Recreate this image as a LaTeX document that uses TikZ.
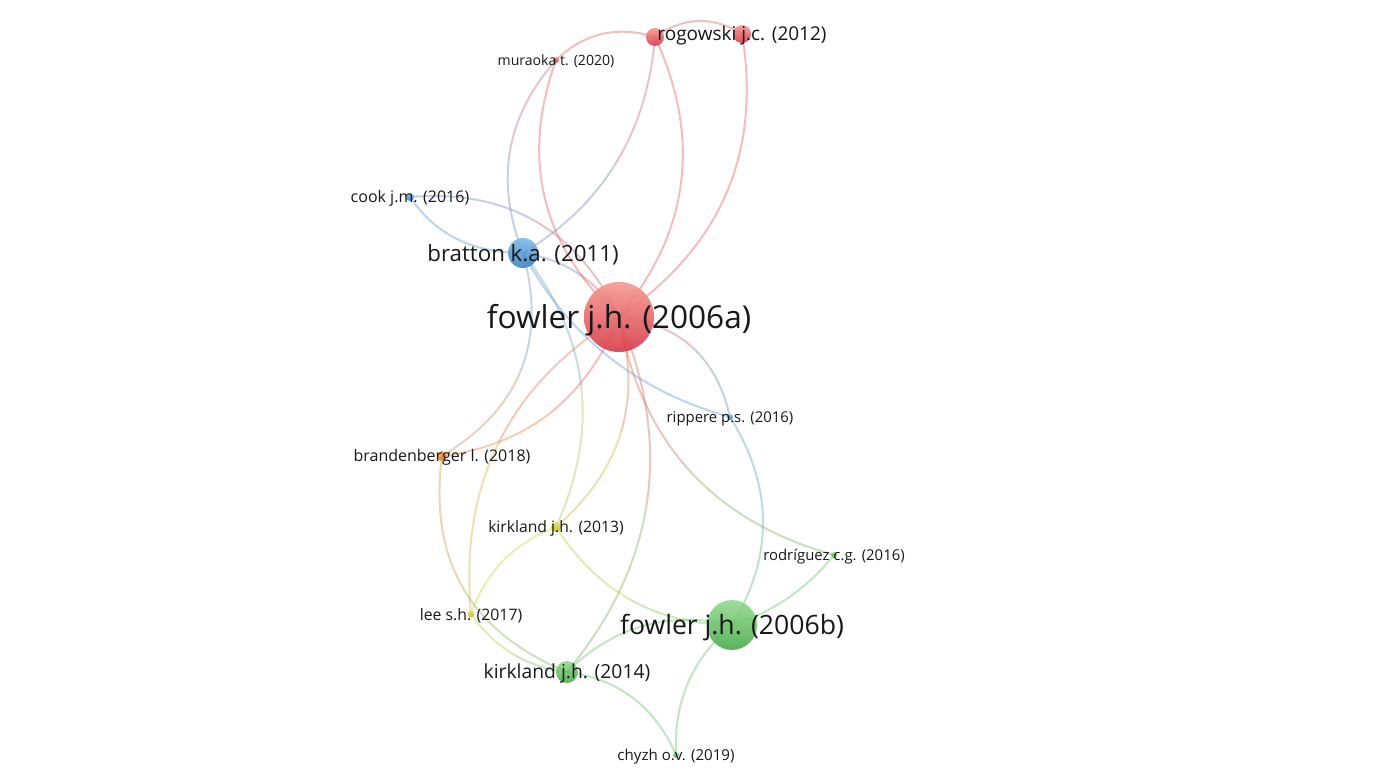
\documentclass[tikz,border=0pt]{standalone}
\usepackage{fontspec}
\setmainfont{Open Sans}
\usetikzlibrary{calc}
\pgfdeclarelayer{back}
\pgfdeclarelayer{bg}
\pgfsetlayers{back,bg,main}
\definecolor{cred}{RGB}{234,90,90}
\definecolor{cblue}{RGB}{85,152,220}
\definecolor{cgreen}{RGB}{100,196,100}
\definecolor{corange}{RGB}{240,142,62}
\definecolor{cyellow}{RGB}{205,212,60}
\definecolor{txt}{RGB}{24,24,24}
\tikzset{
  edgeln/.style={line width=2pt, draw opacity=0.4},
  dot/.style={circle, inner sep=0pt, minimum size=#1, fill opacity=0.88, draw=none},
  redn/.style={top color={rgb,255:red,246;green,150;blue,140}, bottom color={rgb,255:red,214;green,52;blue,68}},
  bluen/.style={top color={rgb,255:red,125;green,185;blue,232}, bottom color={rgb,255:red,55;green,128;blue,195}},
  greenn/.style={top color={rgb,255:red,145;green,218;blue,140}, bottom color={rgb,255:red,68;green,170;blue,70}},
  orangen/.style={top color={rgb,255:red,240;green,160;blue,70}, bottom color={rgb,255:red,222;green,120;blue,30}},
  yellown/.style={top color={rgb,255:red,225;green,225;blue,95}, bottom color={rgb,255:red,190;green,192;blue,40}},
  lbl/.style={inner sep=0pt, text=txt, font=\fontsize{#1}{#1}\selectfont, yshift={-0.09pt*#1}}
}
\newcommand\lnk[6]{%
  \coordinate (em) at (#3,#4);
  \coordinate (eq) at ($2*(em) - 0.5*(#1.center) - 0.5*(#2.center)$);
  \coordinate (el) at ($(#1.center)!0.5!(eq)$);
  \coordinate (er) at ($(#2.center)!0.5!(eq)$);
  \draw[edgeln, draw=#5!75!#6] (#1.center) .. controls ($(#1.center)!0.6666667!(el)$) and ($(em)!0.6666667!(el)$) .. (em);
  \draw[edgeln, draw=#6!75!#5] (em) .. controls ($(em)!0.6666667!(er)$) and ($(#2.center)!0.6666667!(er)$) .. (#2.center);
}
\begin{document}
\begin{tikzpicture}[x=1pt, y=-1pt]
\begin{pgfonlayer}{back}
\fill[white] (0,0) rectangle (1373,775);
\end{pgfonlayer}
\useasboundingbox (0,0) rectangle (1373,775);
% nodes
\node[dot=70pt, redn] (A) at (619,317) {};
\node[dot=50pt, greenn] (B) at (732,625) {};
\node[dot=30pt, bluen] (BR) at (523,253) {};
\node[dot=8pt, bluen] (CK) at (410,197) {};
\node[dot=18pt, redn] (R1) at (655,37) {};
\node[dot=18pt, redn] (R2) at (742,34) {};
\node[dot=6pt, redn] (MU) at (556,60) {};
\node[dot=6pt, bluen] (RI) at (730,417) {};
\node[dot=10pt, orangen] (BB) at (442,456) {};
\node[dot=10pt, yellown] (K13) at (556,527) {};
\node[dot=6pt, greenn] (RO) at (834,555) {};
\node[dot=7pt, yellown] (LE) at (471,614) {};
\node[dot=22pt, greenn] (K14) at (567,672) {};
\node[dot=6pt, greenn] (CH) at (676,755) {};
% labels
\node[lbl=31.6] (lA) at (A) {fowler j.h. (2006a)};
\node[lbl=26.6] (lB) at (B) {fowler j.h. (2006b)};
\node[lbl=22.3] (lBR) at (BR) {bratton k.a. (2011)};
\node[lbl=16] (lCK) at (CK) {cook j.m. (2016)};
\node[lbl=19] (lR2) at (R2) {rogowski j.c. (2012)};
\node[lbl=14.1] (lMU) at (MU) {muraoka t. (2020)};
\node[lbl=14.9] (lRI) at (RI) {rippere p.s. (2016)};
\node[lbl=16] (lBB) at (BB) {brandenberger l. (2018)};
\node[lbl=15.7] (lK13) at (K13) {kirkland j.h. (2013)};
\node[lbl=14.9] (lRO) at (RO) {rodríguez c.g. (2016)};
\node[lbl=15.8] (lLE) at (LE) {lee s.h. (2017)};
\node[lbl=19.3] (lK14) at (K14) {kirkland j.h. (2014)};
\node[lbl=15.1] (lCH) at (CH) {chyzh o.v. (2019)};
% edges
\begin{pgfonlayer}{bg}
\lnk{R1}{R2}{698}{21}{cred}{cred}
\lnk{MU}{R1}{602}{34}{cred}{cred}
\lnk{MU}{BR}{510}{151}{cred}{cblue}
\lnk{MU}{A}{545}{199}{cred}{cred}
\lnk{R1}{A}{681}{183}{cred}{cred}
\lnk{R2}{A}{726}{194}{cred}{cred}
\lnk{R1}{BR}{616}{163}{cred}{cblue}
\lnk{CK}{BR}{457}{239}{cblue}{cblue}
\lnk{CK}{A}{535}{221}{cblue}{cred}
\lnk{BR}{A}{579}{274}{cblue}{cred}
\lnk{BR}{RI}{609}{357}{cblue}{cblue}
\lnk{BR}{BB}{521}{370}{cblue}{corange}
\lnk{BR}{K13}{581}{385}{cblue}{cyellow}
\lnk{A}{RI}{692}{347}{cred}{cblue}
\lnk{RI}{B}{763}{521}{cblue}{cgreen}
\lnk{A}{BB}{550}{413}{cred}{corange}
\lnk{A}{LE}{499}{442}{cred}{cyellow}
\lnk{A}{K13}{621}{432}{cred}{cyellow}
\lnk{A}{K14}{647}{502}{cred}{cgreen}
\lnk{A}{RO}{689}{470}{cred}{cgreen}
\lnk{BB}{K14}{463}{588}{corange}{cgreen}
\lnk{K13}{LE}{503}{561}{cyellow}{cyellow}
\lnk{K13}{B}{631}{600}{cyellow}{cgreen}
\lnk{LE}{K14}{513}{654}{cyellow}{cgreen}
\lnk{K14}{B}{643}{626}{cgreen}{cgreen}
\lnk{K14}{CH}{633}{698}{cgreen}{cgreen}
\lnk{B}{CH}{688}{683}{cgreen}{cgreen}
\lnk{B}{RO}{788}{598}{cgreen}{cgreen}
\end{pgfonlayer}
\end{tikzpicture}
\end{document}
